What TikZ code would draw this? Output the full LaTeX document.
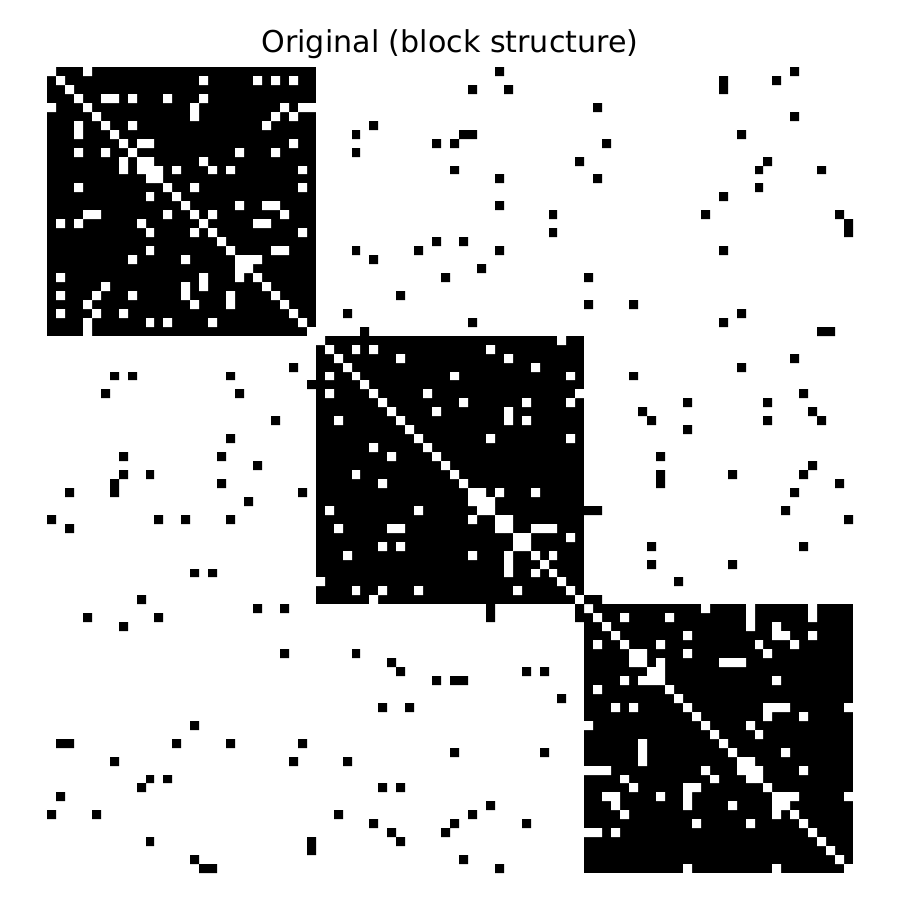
\documentclass[tikz,border=0pt]{standalone}
\usepackage{fontspec}
\setmainfont{DejaVu Sans}
\tikzset{
	declare function={gx(\t)=round(47+8.956*\t);gy(\t)=round(67+8.956*\t);},
	titlelabel/.style={font=\fontsize{8.56}{10}\selectfont,text=black,inner sep=0pt,anchor=base}
}
\begin{document}
\begin{tikzpicture}[x=0.01cm,y=-0.01cm]
	\useasboundingbox (0,0) rectangle (900,900);
	\node[titlelabel] (title) at (450,52) {Original (block structure)};
	% blocks
	\foreach \a/\b in{0/30,30/60,60/90}\fill[black]({gx(\a)},{gy(\a)}) rectangle ({gx(\b)},{gy(\b)});
	% diagonal
	\fill[white] \foreach \d in{0,...,89}{({gx(\d)},{gy(\d)}) rectangle ({gx(\d+1)},{gy(\d+1)})};
	% holes in the blocks, upper half only
	\fill[white] \foreach \r/\c in{
		0/4,3/6,3/7,3/9,3/13,6/9,8/10,8/11,10/11,11/12,11/14,
		1/17,1/23,1/25,1/27,3/17,4/16,4/26,4/28,4/29,5/16,5/25,5/27,6/24,8/27,9/21,9/25,
		10/17,11/18,11/20,11/28,13/16,13/28,15/21,15/24,15/25,
		16/18,16/26,17/23,17/24,18/28,20/25,20/26,21/22,21/23,
		31/34,31/36,32/39,34/45,36/42,38/43,
		30/57,31/49,32/51,33/54,34/58,36/59,37/46,37/53,37/58,38/51,39/51,39/53,41/49,41/58,
		47/48,47/50,47/54,48/49,50/51,51/54,51/55,51/56,52/53,52/58,54/56,
		60/73,60/78,60/85,61/64,61/69,61/78,61/85,62/78,62/81,63/71,63/81,63/82,63/85,
		64/68,64/79,64/83,65/66,65/71,65/80,66/68,66/75,66/76,66/77,67/68,68/81,
		71/80,71/81,71/82,71/89,72/80,72/84,73/78,74/79,76/82,77/78,78/79,78/84,81/82,81/83,81/89}{
		({gx(\c)},{gy(\r)}) rectangle ({gx(\c+1)},{gy(\r+1)})
		({gx(\r)},{gy(\c)}) rectangle ({gx(\r+1)},{gy(\c+1)})
	};
	% links between the blocks
	\fill[black] \foreach \r/\c in{
		0/50,2/47,2/51,6/36,7/34,7/46,7/47,8/43,8/45,9/34,10/59,11/45,12/50,15/50,16/56,18/56,
		19/43,19/46,20/34,20/41,20/50,21/36,22/48,23/44,25/39,27/33,28/47,29/35,
		0/83,1/75,2/75,1/81,4/61,5/83,7/77,8/62,10/80,11/79,11/86,12/61,13/79,14/75,16/73,16/88,
		17/89,18/89,20/75,23/60,26/60,26/65,27/77,28/75,29/86,29/87,
		32/83,33/77,34/65,36/84,37/71,37/80,38/66,38/85,39/67,39/80,39/86,40/71,43/68,44/85,
		45/68,46/68,45/76,45/84,46/88,47/83,49/60,49/61,49/82,50/89,53/67,53/84,55/67,55/76,
		57/70,59/60,59/61}{
		({gx(\c)},{gy(\r)}) rectangle ({gx(\c+1)},{gy(\r+1)})
		({gx(\r)},{gy(\c)}) rectangle ({gx(\r+1)},{gy(\c+1)})
	};
\end{tikzpicture}
\end{document}
